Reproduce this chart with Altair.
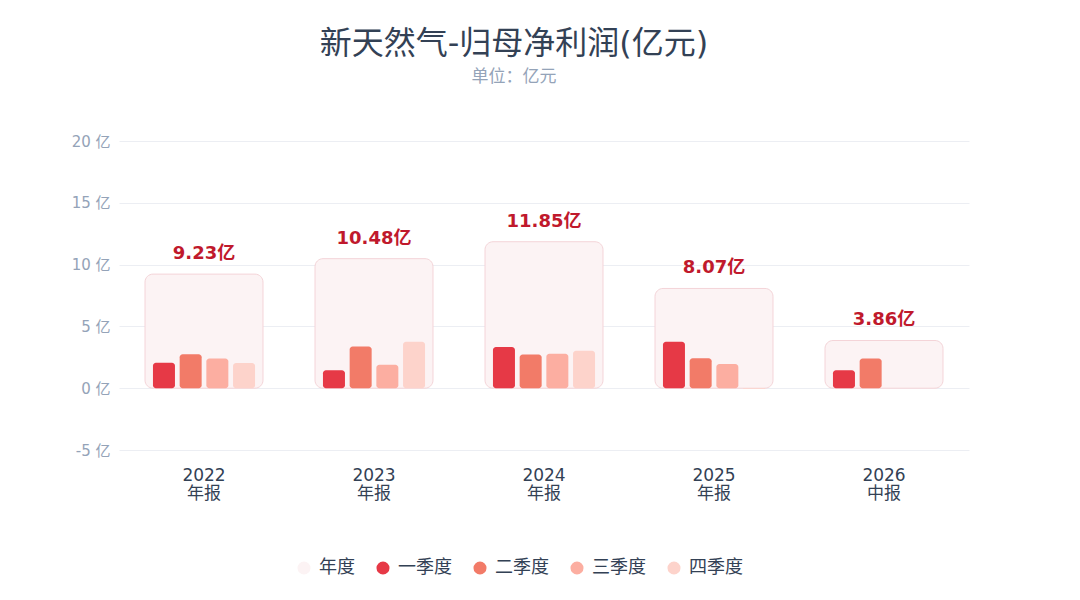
import altair as alt
import pandas as pd

years = ["2022", "2023", "2024", "2025", "2026"]
report = ["年报", "年报", "年报", "年报", "中报"]
annual = [9.23, 10.48, 11.85, 8.07, 3.86]
quarters = ["一季度", "二季度", "三季度", "四季度"]
q1 = [2.05, 1.45, 3.33, 3.75, 1.45]
q2 = [2.75, 3.38, 2.72, 2.43, 2.41]
q3 = [2.40, 1.90, 2.78, 1.95, None]
q4 = [2.03, 3.75, 3.02, -0.06, None]

series_domain = ["年度"] + quarters
series_colors = ["#fcf3f4", "#e63946", "#f27b68", "#fcaea1", "#fdd3cb"]

FONT = "DejaVu Sans, Noto Sans CJK SC, sans-serif"

ann_df = pd.DataFrame({
    "year": years,
    "value": annual,
    "series": ["年度"] * len(years),
    "label": [f"{v:.2f}亿" for v in annual],
})

rows = []
for qi, (qname, qvals) in enumerate(zip(quarters, [q1, q2, q3, q4])):
    for y, v in zip(years, qvals):
        if v is not None:
            rows.append({"year": y, "series": qname, "value": v, "qorder": qi})
q_df = pd.DataFrame(rows)

x_enc = alt.X(
    "year:N",
    sort=years,
    scale=alt.Scale(paddingInner=0.306, paddingOuter=0.153),
    axis=alt.Axis(
        title=None,
        labelAngle=0,
        domain=False,
        ticks=False,
        grid=False,
        labelFontSize=17,
        labelColor="#334155",
        labelPadding=17,
        labelLineHeight=18,
        labelExpr="[datum.label, datum.label == '2026' ? '中报' : '年报']",
    ),
)

y_scale = alt.Scale(domain=[-5, 20], nice=False)
y_axis = alt.Axis(
    title=None,
    values=[-5, 0, 5, 10, 15, 20],
    labelExpr="datum.value + ' 亿'",
    domain=False,
    ticks=False,
    labelFontSize=15,
    labelColor="#94a3b8",
    labelPadding=9,
    gridColor="#eceef3",
)

color_enc = alt.Color(
    "series:N",
    scale=alt.Scale(domain=series_domain, range=series_colors),
    legend=alt.Legend(
        title=None,
        orient="none",
        direction="horizontal",
        legendX=176,
        legendY=418,
        symbolType="circle",
        symbolSize=170,
        symbolStrokeWidth=0,
        labelFontSize=18,
        labelColor="#334155",
        columnPadding=19,
        labelOffset=6,
    ),
)

annual_bars = alt.Chart(ann_df).mark_bar(
    width={"band": 1.0},
    cornerRadius=8,
    stroke="#f4d4d8",
    strokeWidth=1,
).encode(
    x=x_enc,
    y=alt.Y("value:Q", scale=y_scale, axis=y_axis),
    y2=alt.datum(0),
    color=color_enc,
)

annual_text = alt.Chart(ann_df).mark_text(
    dy=-11,
    baseline="bottom",
    fontSize=18,
    fontWeight="bold",
    color="#c0192c",
).encode(
    x=alt.X("year:N", sort=years),
    y=alt.Y("value:Q"),
    text="label:N",
)

q_bars = alt.Chart(q_df).mark_bar(
    cornerRadiusEnd=3,
).encode(
    x=alt.X("year:N", sort=years),
    xOffset=alt.XOffset(
        "series:N",
        sort=quarters,
        scale=alt.Scale(domain=quarters, paddingInner=0.176, paddingOuter=0.298),
    ),
    y=alt.Y("value:Q"),
    y2=alt.datum(0),
    color=alt.Color("series:N"),
)

chart = alt.layer(annual_bars, q_bars, annual_text).properties(
    width=850,
    height=309,
    padding={"left": 63, "top": 20, "right": 100, "bottom": 10},
    background="#ffffff",
    title=alt.TitleParams(
        text="新天然气-归母净利润(亿元)",
        subtitle="单位：亿元",
        anchor="middle",
        dx=-30,
        fontSize=32,
        fontWeight="normal",
        color="#334155",
        subtitleFontSize=17,
        subtitleColor="#94a3b8",
        subtitlePadding=8,
        offset=48,
    ),
).configure(
    font=FONT,
).configure_view(stroke=None)

chart.save("out.html", embed_options={"renderer": "svg", "actions": False})
